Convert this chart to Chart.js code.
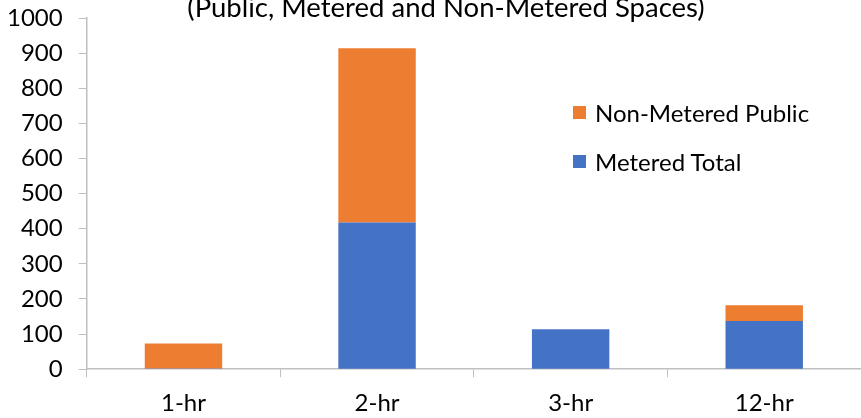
<!DOCTYPE html>
<html lang="en">
<head>
    <meta charset="UTF-8">
    <title>Time Limit Spaces</title>
    <script src="https://cdn.jsdelivr.net/npm/chart.js"></script>
    <style>
        body { margin: 0; background: #fff; overflow: hidden; }
        .wrap { position: relative; width: 861px; height: 418px; overflow: hidden; font-family: Lato, "Open Sans", sans-serif; }
        #titulo { position: absolute; left: 0; width: 892px; top: -7px; text-align: center; font-size: 27.5px; line-height: 27.5px; color: #000; white-space: nowrap; }
        #leyenda { position: absolute; left: 573px; top: 88px; }
        #leyenda div { height: 49px; display: flex; align-items: center; font-size: 24px; color: #000; }
        #leyenda span.cuadro { display: inline-block; width: 13px; height: 13px; margin-right: 9px; }
    </style>
</head>
<body>
<div class="wrap">
    <canvas id="grafico" width="861" height="418"></canvas>
    <div id="titulo">(Public, Metered and Non-Metered Spaces)</div>
    <div id="leyenda"></div>
</div>

<script>
    const categorias = ['1-hr', '2-hr', '3-hr', '12-hr'];
    const meteredTotal = [2, 418, 114, 137];
    const nonMeteredPublic = [71, 496, 0, 45];
    const ticksY = [0, 100, 200, 300, 400, 500, 600, 700, 800, 900, 1000];

    const azul = '#4472C4';
    const naranja = '#ED7D31';
    const gris = '#BFBFBF';

    const datasets = [
        { label: 'Metered Total', data: meteredTotal, backgroundColor: azul },
        { label: 'Non-Metered Public', data: nonMeteredPublic, backgroundColor: naranja }
    ];

    // leyenda en html, orden inverso como en el original
    const leyenda = document.getElementById('leyenda');
    datasets.slice().reverse().forEach(ds => {
        const fila = document.createElement('div');
        fila.innerHTML = `<span class="cuadro" style="background:${ds.backgroundColor}"></span>${ds.label}`;
        leyenda.appendChild(fila);
    });

    new Chart(document.getElementById('grafico'), {
        type: 'bar',
        data: { labels: categorias, datasets: datasets },
        options: {
            responsive: false,
            animation: false,
            datasets: { bar: { barPercentage: 0.4, categoryPercentage: 1 } },
            layout: { padding: { left: -9, right: 0, top: 18, bottom: -12 } },
            plugins: {
                legend: { display: false },
                tooltip: { enabled: false }
            },
            scales: {
                x: {
                    stacked: true,
                    afterFit: s => { s.paddingLeft = 0; s.paddingRight = 0; },
                    grid: { drawOnChartArea: false, tickLength: 8, color: gris },
                    border: { color: gris, width: 1.5 },
                    ticks: { color: '#000', padding: 12, font: { family: 'Lato', size: 24 } }
                },
                y: {
                    stacked: true,
                    min: 0,
                    max: 1000,
                    afterBuildTicks: axis => { axis.ticks = ticksY.map(v => ({ value: v })); },
                    afterFit: s => { s.paddingTop = 0; s.paddingBottom = 0; },
                    grid: { drawOnChartArea: false, tickLength: 8, color: gris },
                    border: { color: gris, width: 1.5 },
                    ticks: {
                        color: '#000', padding: 16, font: { family: 'Lato', size: 24 },
                        callback: v => String(v)
                    }
                }
            }
        }
    });
</script>
</body>
</html>
